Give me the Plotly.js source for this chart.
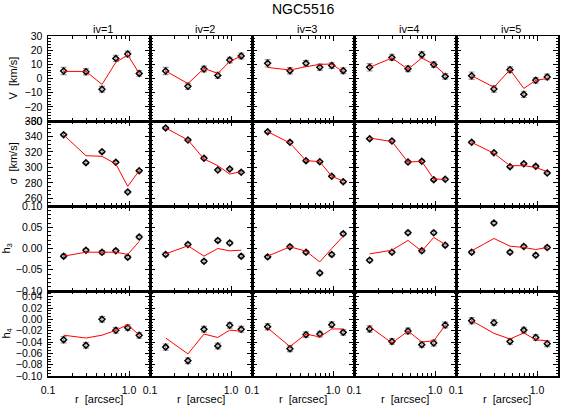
<!DOCTYPE html>
<html>
<head>
<meta charset="utf-8">
<script src="https://cdn.plot.ly/plotly-3.0.1.min.js"></script>
<style>
  html, body { margin: 0; padding: 0; background: #fff; }
  #plot { width: 567px; height: 405px; }
</style>
</head>
<body>
<div id="plot"></div>
<script>
// radii shared by all panels (arcsec)
const radius = [0.156, 0.294, 0.464, 0.687, 0.964, 1.336];
const columns = ['iv=1', 'iv=2', 'iv=3', 'iv=4', 'iv=5'];

// V [km/s], one row per iv
const vData = [
  [5.3, 4.8, -7.6, 14.2, 17.3, 3.6],
  [5.3, -5.5, 6.7, 2.2, 13.0, 15.9],
  [10.7, 5.5, 10.7, 7.9, 9.1, 5.5],
  [7.9, 14.9, 6.9, 16.8, 9.8, 1.5],
  [2.0, -7.4, 6.2, -11.2, -1.3, 1.1]
];
const vModel = [
  [5.0, 5.0, -4.2, 11.4, 16.6, 3.6],
  [5.3, -3.6, 7.1, 3.6, 12.0, 15.9],
  [7.8, 6.0, 8.3, 10.0, 10.2, 4.8],
  [7.9, 14.5, 6.5, 14.5, 10.0, 2.7],
  [2.0, -6.2, 6.2, -7.0, -1.3, 0.0]
];
const vErr = [2.6, 2.2, 2.0, 2.2, 2.0, 2.0];

// sigma [km/s]
const sigData = [
  [342.3, 306.1, 320.3, 306.5, 268.1, 295.7],
  [351.0, 335.4, 311.7, 296.6, 297.9, 293.6],
  [346.2, 332.4, 308.7, 307.4, 288.4, 281.5],
  [337.1, 334.1, 306.9, 307.8, 284.1, 284.5],
  [332.4, 319.0, 300.9, 304.8, 301.3, 292.7]
];
const sigModel = [
  [342.0, 315.1, 314.3, 304.4, 275.4, 295.7],
  [351.0, 335.4, 310.8, 302.2, 291.4, 294.4],
  [346.2, 331.5, 308.7, 307.4, 288.4, 282.4],
  [338.0, 333.3, 306.9, 307.8, 284.9, 284.5],
  [332.4, 318.2, 302.2, 302.2, 300.0, 294.4]
];
const sigErr = [1.5, 1.5, 1.5, 1.5, 1.5, 1.5];

// h3
const h3Data = [
  [-0.018, -0.004, -0.009, -0.0055, -0.0205, 0.027],
  [-0.014, 0.0094, -0.030, 0.019, 0.013, -0.018],
  [-0.0197, 0.004, -0.0087, -0.0575, -0.014, 0.0346],
  [-0.0276, -0.0087, 0.037, -0.0055, 0.037, 0.0079],
  [-0.0087, 0.060, -0.0087, 0.0047, -0.0157, 0.0024]
];
const h3Model = [
  [-0.018, -0.0087, -0.0087, -0.0087, -0.014, 0.0165],
  [-0.0126, 0.0063, -0.018, 0.0, -0.0055, -0.004],
  [-0.018, 0.004, -0.0063, -0.0315, 0.0, 0.029],
  [-0.0126, -0.004, 0.019, -0.0063, 0.026, 0.0094],
  [-0.0055, 0.0236, 0.0055, 0.0024, -0.0024, 0.0024]
];
const h3Err = [0.004, 0.004, 0.004, 0.004, 0.004, 0.004];

// h4
const h4Data = [
  [-0.0359, -0.0459, 0.0, -0.0194, -0.0147, -0.0282],
  [-0.049, -0.073, -0.0176, -0.047, -0.0106, -0.0176],
  [-0.013, -0.052, -0.027, -0.026, -0.0094, -0.023],
  [-0.017, -0.039, -0.0206, -0.0447, -0.0418, -0.010],
  [-0.0024, -0.0059, -0.039, -0.019, -0.032, -0.043]
];
const h4Model = [
  [-0.028, -0.033, -0.028, -0.0194, -0.0094, -0.028],
  [-0.033, -0.061, -0.026, -0.032, -0.019, -0.021],
  [-0.0153, -0.048, -0.026, -0.031, -0.017, -0.017],
  [-0.013, -0.0418, -0.0206, -0.040, -0.038, -0.0106],
  [-0.0024, -0.0247, -0.0347, -0.024, -0.036, -0.038]
];
const h4Err = [0.0055, 0.005, 0.005, 0.005, 0.005, 0.005];

const vTicks = [-30, -20, -10, 0, 10, 20, 30];
const sigTicks = [260, 280, 300, 320, 340, 360];
const h3Ticks = [-0.10, -0.05, 0.00, 0.05, 0.10];
const h4Ticks = [-0.10, -0.08, -0.06, -0.04, -0.02, 0.00, 0.02, 0.04];
const xTicks = [0.1, 1];
const xTickText = ['0.1', '1.0'];
const xMinor = [0.2, 0.3, 0.4, 0.5, 0.6, 0.7, 0.8, 0.9];

const rows = [
  { data: vData, model: vModel, err: vErr, range: [-30, 30], ticks: vTicks, fmt: 'd', minor: 2, title: 'V  [km/s]', tx: 12 },
  { data: sigData, model: sigModel, err: sigErr, range: [250, 360], ticks: sigTicks, fmt: 'd', minor: 5, title: 'σ  [km/s]', tx: 12 },
  { data: h3Data, model: h3Model, err: h3Err, range: [-0.1, 0.1], ticks: h3Ticks, fmt: '.2f', minor: 0.01, title: 'h<sub>3</sub>', tx: 6 },
  { data: h4Data, model: h4Model, err: h4Err, range: [-0.1, 0.05], ticks: h4Ticks, fmt: '.2f', minor: 0.005, title: 'h<sub>4</sub>', tx: 6 }
];

// frame geometry in pixels
const W = 567, H = 405;
const padL = 48, colW = 102, padT = 36, rowH = 85;
const FONT = 'Liberation Sans, Arial, sans-serif';

const traces = [];
const layout = {
  width: W, height: H,
  margin: { l: 0, r: 0, t: 0, b: 0 },
  paper_bgcolor: '#fff', plot_bgcolor: '#fff',
  showlegend: false,
  font: { family: FONT, size: 10, color: '#000' },
  annotations: []
};

rows.forEach((row, r) => {
  columns.forEach((col, c) => {
    const k = r * 5 + c + 1;
    const xa = k === 1 ? 'x' : 'x' + k;
    const ya = k === 1 ? 'y' : 'y' + k;
    traces.push({
      x: radius, y: row.data[c], xaxis: xa, yaxis: ya,
      type: 'scatter', mode: 'markers',
      marker: { symbol: 'diamond-open', size: 4.5, color: '#000', line: { width: 1.5, color: '#000' } },
      error_y: { type: 'data', array: row.err, color: '#999', thickness: 1.2, width: 3 },
      hoverinfo: 'skip'
    });
    traces.push({
      x: radius, y: row.model[c], xaxis: xa, yaxis: ya,
      type: 'scatter', mode: 'lines',
      line: { color: '#ff0000', width: 1 },
      hoverinfo: 'skip'
    });

    const x0 = padL + c * colW, y0 = padT + r * rowH;
    const xName = k === 1 ? 'xaxis' : 'xaxis' + k;
    const yName = k === 1 ? 'yaxis' : 'yaxis' + k;
    layout[xName] = {
      domain: [x0 / W, (x0 + colW) / W],
      anchor: ya, type: 'log', range: [-1, 0.259],
      showline: true, mirror: 'allticks', linecolor: '#000', linewidth: 1.5,
      ticks: 'inside', ticklen: 5, tickwidth: 1, tickcolor: '#000',
      tickmode: 'array', tickvals: xTicks, ticktext: xTickText,
      minor: { tickmode: 'array', tickvals: xMinor, ticks: 'inside', ticklen: 3, tickcolor: '#000' },
      showticklabels: r === rows.length - 1,
      ticklabelstandoff: 4,
      tickfont: { size: 10.5 },
      showgrid: false, zeroline: false, automargin: false, fixedrange: true
    };
    layout[yName] = {
      domain: [1 - (y0 + rowH) / H, 1 - y0 / H],
      anchor: xa, range: row.range,
      showline: true, mirror: 'allticks', linecolor: '#000', linewidth: 1.5,
      ticks: 'inside', ticklen: 5, tickwidth: 1, tickcolor: '#000',
      tickmode: 'array', tickvals: row.ticks, tickformat: row.fmt,
      minor: { dtick: row.minor, ticks: 'inside', ticklen: 2.5, tickcolor: '#000' },
      showticklabels: c === 0,
      ticklabelstandoff: 2,
      tickfont: { size: 10.5 },
      showgrid: false, zeroline: false, automargin: false, fixedrange: true
    };

    if (r === 0) {
      layout.annotations.push({
        text: col, xref: 'paper', yref: 'paper',
        x: (x0 + colW / 2 + 4) / W, y: 1 - 29 / H,
        showarrow: false, xanchor: 'center', yanchor: 'middle',
        font: { size: 11 }
      });
    }
    if (r === rows.length - 1) {
      layout.annotations.push({
        text: 'r  [arcsec]', xref: 'paper', yref: 'paper',
        x: (x0 + colW / 2) / W, y: 1 - 399 / H,
        showarrow: false, xanchor: 'center', yanchor: 'middle',
        font: { size: 11 }
      });
    }
  });
  layout.annotations.push({
    text: row.title, xref: 'paper', yref: 'paper',
    x: row.tx / W, y: 1 - (padT + r * rowH + rowH / 2) / H,
    textangle: -90, showarrow: false, xanchor: 'center', yanchor: 'middle',
    font: { size: 11 }
  });
});

layout.annotations.push({
  text: 'NGC5516', xref: 'paper', yref: 'paper',
  x: 303 / W, y: 1 - 9 / H,
  showarrow: false, xanchor: 'center', yanchor: 'middle',
  font: { size: 14 }
});

Plotly.newPlot('plot', traces, layout, { displayModeBar: false, staticPlot: true });
</script>
</body>
</html>
